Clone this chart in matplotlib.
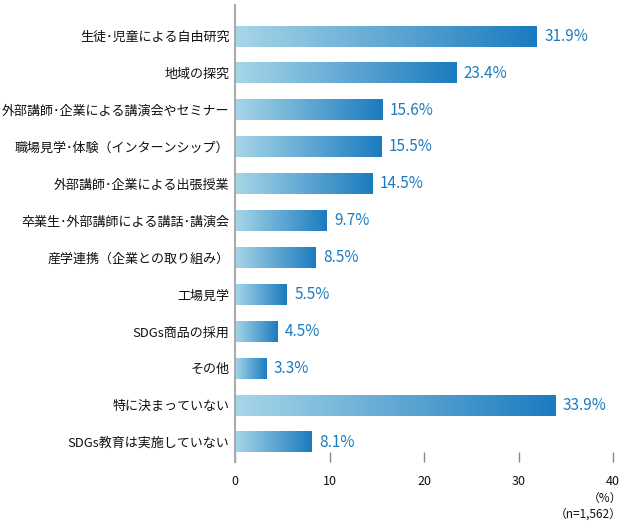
import numpy as np
import matplotlib
matplotlib.use('Agg')
import matplotlib.pyplot as plt
from matplotlib.colors import LinearSegmentedColormap

plt.rcParams['font.family'] = ['Noto Sans CJK JP', 'DejaVu Sans']

categories = [
    '生徒･児童による自由研究',
    '地域の探究',
    '外部講師･企業による講演会やセミナー',
    '職場見学･体験（インターンシップ）',
    '外部講師･企業による出張授業',
    '卒業生･外部講師による講話･講演会',
    '産学連携（企業との取り組み）',
    '工場見学',
    'SDGs商品の採用',
    'その他',
    '特に決まっていない',
    'SDGs教育は実施していない',
]
values = [31.9, 23.4, 15.6, 15.5, 14.5, 9.7, 8.5, 5.5, 4.5, 3.3, 33.9, 8.1]
xticks = [0, 10, 20, 30, 40]

blue = '#1b7bbf'
cmap = LinearSegmentedColormap.from_list('bar', ['#a7d6e8', blue])

fig = plt.figure(figsize=(6.25, 5.23), dpi=100)
ax = fig.add_axes([0.376, 0.1166, 0.605, 0.8734])

bar_h = 0.56
grad = np.linspace(0, 1, 256).reshape(1, -1)
for i, v in enumerate(values):
    ax.imshow(grad, extent=[0, v, i + bar_h / 2, i - bar_h / 2],
              aspect='auto', cmap=cmap, interpolation='bicubic', zorder=2)
    ax.text(v + 0.8, i, f'{v}%', va='center', ha='left', fontsize=11,
            color=blue)

ax.set_xlim(0, 40)
ax.set_ylim(11.54, -0.84)

ax.set_yticks(range(len(categories)))
ax.set_yticklabels(categories, fontsize=9.4, color='#111111')
ax.tick_params(axis='y', length=0, pad=4)

ax.set_xticks(xticks)
ax.set_xticklabels([str(t) for t in xticks], fontsize=9, color='#111111')
ax.tick_params(axis='x', direction='in', length=7, width=1, color='#888888', pad=9)

for s in ['top', 'right', 'bottom']:
    ax.spines[s].set_visible(False)
ax.spines['left'].set_color('#aaaaaa')
ax.spines['left'].set_linewidth(1.5)

fig.text(0.995, 0.047, '（%）', ha='right', va='center', fontsize=8.5, color='#111111')
fig.text(0.995, 0.017, '（n=1,562）', ha='right', va='center', fontsize=8.5, color='#111111')

fig.savefig('out.png', dpi=100)
